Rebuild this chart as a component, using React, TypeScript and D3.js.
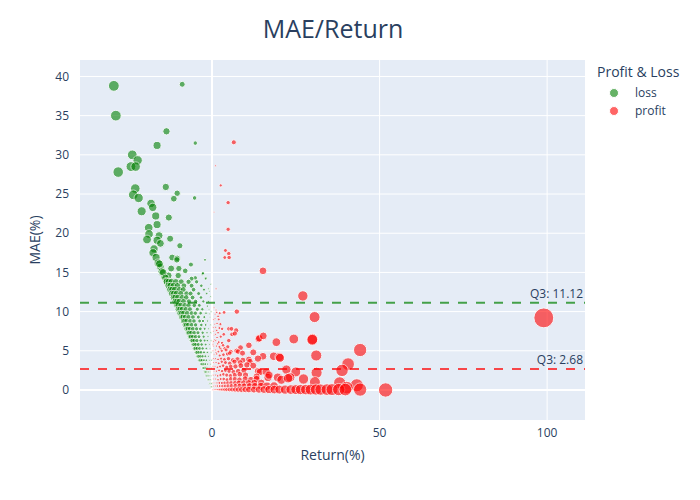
import React, { useEffect, useRef } from "react";
import * as d3 from "d3";

type Pt = [number, number]; // [return %, MAE %]

// loss trades (return, MAE)
const lossData: Pt[] = [
  [-29.3, 38.8], [-8.9, 39.0], [-28.7, 35.0], [-13.6, 33.0], [-5.0, 31.5], [-16.4, 31.2],
  [-23.8, 30.0], [-22.2, 29.3], [-24.2, 28.5], [-22.8, 28.5], [-28.0, 27.8], [-13.8, 25.9],
  [-22.9, 25.7], [-23.5, 24.9], [-10.4, 25.1], [-21.9, 24.5], [-11.4, 24.4], [-5.2, 24.5],
  [-18.2, 23.8], [-17.7, 23.3], [-21.0, 22.8], [-16.8, 22.2], [-12.9, 22.0], [-16.4, 21.1],
  [-18.9, 20.7], [-18.8, 19.9], [-15.8, 19.7], [-12.5, 19.3], [-19.4, 19.2], [-16.4, 19.1],
  [-15.4, 18.7], [-9.6, 18.4], [-17.3, 18.0], [-17.6, 17.5], [-16.7, 16.9], [-11.9, 16.9],
  [-10.4, 16.8], [-6.3, 16.0], [-2.1, 16.6], [-16.1, 16.2], [-15.4, 15.7], [-12.2, 15.5],
  [-9.9, 15.5], [-8.0, 15.2], [-15.0, 15.1], [-14.2, 14.4], [-13.0, 14.6], [-10.1, 14.6],
  [-5.0, 14.3], [-2.8, 14.8], [-1.8, 14.3], [-2.7, 14.9], [-1.9, 14.2], [-0.8, 12.6],
  [-14.6, 15.0], [-15.7, 16.1], [-13.9, 14.3], [-13.6, 13.9], [-10.5, 16.6], [-6.1, 14.2],
  [-0.4, 13.5], [-1.0, 12.9], [-0.5, 11.9], [-1.4, 10.7], [-0.3, 10.0], [-0.7, 9.7],
  [-13.5, 13.8], [-12.9, 13.8], [-12.1, 13.8], [-10.8, 13.8], [-9.2, 13.8], [-7.0, 13.8], [-4.6, 13.8],
  [-13.0, 13.3], [-12.4, 13.3], [-11.5, 13.3], [-10.3, 13.3], [-8.4, 13.3], [-6.1, 13.3], [-3.2, 13.3],
  [-12.5, 12.8], [-11.9, 12.8], [-11.1, 12.8], [-9.7, 12.8], [-8.6, 12.8], [-5.5, 12.8], [-2.4, 12.8],
  [-12.0, 12.3], [-11.4, 12.3], [-10.6, 12.3], [-9.3, 12.3], [-7.6, 12.3], [-6.4, 12.3], [-4.0, 12.3], [-1.6, 12.3],
  [-11.5, 11.8], [-11.0, 11.8], [-10.2, 11.8], [-8.9, 11.8], [-7.7, 11.8], [-5.8, 11.8], [-3.3, 11.8],
  [-11.0, 11.3], [-10.5, 11.3], [-9.8, 11.3], [-8.5, 11.3], [-6.9, 11.3], [-4.9, 11.3], [-2.6, 11.3], [-1.1, 11.3],
  [-10.5, 10.8], [-10.1, 10.8], [-9.3, 10.8], [-8.1, 10.8], [-7.0, 10.8], [-5.3, 10.8], [-3.8, 10.8],
  [-10.1, 10.3], [-9.6, 10.3], [-8.9, 10.3], [-7.8, 10.3], [-6.6, 10.3], [-4.4, 10.3], [-2.9, 10.3], [-0.9, 10.3],
  [-9.6, 9.8], [-9.1, 9.8], [-8.5, 9.8], [-7.4, 9.8], [-6.1, 9.8], [-5.0, 9.8], [-3.4, 9.8], [-1.8, 9.8],
  [-9.1, 9.3], [-8.7, 9.3], [-8.0, 9.3], [-7.0, 9.3], [-5.7, 9.3], [-4.1, 9.3], [-2.3, 9.3], [-0.6, 9.3],
  [-8.6, 8.8], [-8.2, 8.8], [-7.6, 8.8], [-6.5, 8.8], [-5.4, 8.8], [-3.7, 8.8], [-2.7, 8.8], [-1.3, 8.8],
  [-8.1, 8.3], [-7.7, 8.3], [-7.1, 8.3], [-6.1, 8.3], [-4.9, 8.3], [-3.2, 8.3], [-1.9, 8.3], [-0.5, 8.3],
  [-7.6, 7.8], [-7.2, 7.8], [-6.6, 7.8], [-5.7, 7.8], [-4.6, 7.8], [-3.5, 7.8], [-2.2, 7.8], [-1.0, 7.8],
  [-7.1, 7.3], [-6.8, 7.3], [-6.2, 7.3], [-5.3, 7.3], [-4.2, 7.3], [-2.8, 7.3], [-1.5, 7.3], [-0.4, 7.3],
  [-6.6, 6.8], [-6.3, 6.8], [-5.7, 6.8], [-4.9, 6.8], [-3.9, 6.8], [-2.5, 6.8], [-1.2, 6.8],
  [-6.1, 6.3], [-5.8, 6.3], [-5.3, 6.3], [-4.5, 6.3], [-3.4, 6.3], [-2.2, 6.3], [-1.4, 6.3], [-0.3, 6.3],
  [-5.6, 5.8], [-5.3, 5.8], [-4.8, 5.8], [-4.1, 5.8], [-3.1, 5.8], [-1.9, 5.8], [-0.8, 5.8],
  [-5.2, 5.3], [-4.9, 5.3], [-4.4, 5.3], [-3.7, 5.3], [-2.8, 5.3], [-1.7, 5.3], [-0.6, 5.3],
  [-4.7, 4.8], [-4.4, 4.8], [-3.9, 4.8], [-3.3, 4.8], [-2.4, 4.8], [-1.4, 4.8], [-0.3, 4.8],
  [-4.2, 4.3], [-3.9, 4.3], [-3.4, 4.3], [-2.8, 4.3], [-2.0, 4.3], [-1.1, 4.3],
  [-3.7, 3.8], [-3.4, 3.8], [-3.0, 3.8], [-2.4, 3.8], [-1.7, 3.8], [-0.8, 3.8], [-0.2, 3.8],
  [-3.2, 3.3], [-2.9, 3.3], [-2.5, 3.3], [-2.0, 3.3], [-1.3, 3.3], [-0.5, 3.3],
  [-2.7, 2.8], [-2.4, 2.8], [-2.0, 2.8], [-1.5, 2.8], [-0.9, 2.8], [-0.2, 2.8],
  [-2.2, 2.3], [-1.9, 2.3], [-1.5, 2.3], [-1.1, 2.3], [-0.6, 2.3],
  [-1.7, 1.8], [-1.4, 1.8], [-1.1, 1.8], [-0.7, 1.8], [-0.3, 1.8],
  [-1.2, 1.3], [-1.0, 1.3], [-0.7, 1.3], [-0.4, 1.3],
  [-0.8, 0.8], [-0.6, 0.8], [-0.3, 0.8], [-0.1, 0.8],
  [-0.4, 0.4], [-0.2, 0.4], [-0.1, 0.4],
];

// profit trades (return, MAE)
const profitData: Pt[] = [
  [6.5, 31.6], [1.0, 28.6], [2.6, 26.1], [4.8, 23.9], [0.6, 22.7], [4.8, 20.5], [4.0, 17.8],
  [5.0, 17.4], [3.8, 16.9], [5.1, 16.9], [15.2, 15.2], [1.2, 12.9], [27.1, 12.0], [99.0, 9.2],
  [0.6, 10.5], [1.2, 10.2], [0.9, 9.6], [1.8, 9.4], [0.4, 8.0], [1.1, 8.0], [2.2, 7.9], [0.5, 7.5],
  [2.6, 6.8], [1.5, 6.7], [0.3, 5.8], [1.7, 5.9], [2.5, 5.3], [3.8, 5.3], [1.2, 4.8],
  [1.4, 9.9], [2.3, 9.8], [3.6, 9.9], [7.4, 10.0], [30.6, 9.3], [0.5, 9.0], [0.9, 9.1], [2.0, 9.0],
  [0.8, 8.4], [1.5, 8.5], [2.5, 8.4], [1.4, 7.6], [3.0, 7.8], [5.0, 7.8], [5.8, 7.8], [7.2, 7.6],
  [0.6, 7.0], [1.0, 7.1], [1.8, 7.3], [3.5, 7.1], [6.0, 7.1], [6.8, 7.2],
  [13.9, 6.5], [14.1, 6.6], [15.3, 6.9], [19.2, 6.1], [24.4, 6.5], [30.0, 6.5], [29.9, 6.4],
  [0.4, 6.2], [1.1, 6.3], [2.0, 6.1], [3.0, 6.0], [5.0, 6.3], [0.7, 6.4],
  [0.5, 5.6], [1.3, 5.6], [2.2, 5.5], [3.3, 5.7], [4.7, 5.5], [8.5, 5.4], [11.0, 5.7],
  [0.3, 5.0], [1.0, 5.1], [1.9, 4.9], [2.9, 5.0], [4.2, 5.1], [5.6, 4.9], [7.3, 5.0], [12.3, 4.8], [44.2, 5.1],
  [0.6, 4.5], [1.4, 4.6], [2.3, 4.4], [3.4, 4.5], [4.6, 4.6], [5.3, 4.7], [7.8, 4.9], [9.1, 4.7],
  [15.2, 4.3], [18.4, 4.3], [20.1, 4.2], [31.1, 4.4],
  [0.4, 4.0], [1.0, 4.0], [1.8, 3.9], [2.7, 4.0], [3.7, 3.9], [4.9, 4.0], [6.2, 3.8], [7.6, 3.9],
  [9.2, 3.8], [11.0, 3.9], [13.7, 4.0], [20.3, 4.1],
  [0.5, 3.5], [1.2, 3.5], [2.0, 3.4], [2.9, 3.6], [4.0, 3.5], [5.3, 3.4], [6.7, 3.6], [8.4, 3.5],
  [11.3, 3.6], [40.6, 3.3],
  [0.3, 3.0], [0.9, 3.0], [1.6, 2.9], [2.4, 3.0], [3.3, 3.1], [4.4, 2.9], [5.6, 3.0], [7.0, 3.0],
  [8.6, 3.1], [10.4, 3.2], [12.3, 3.1],
  [0.6, 2.4], [1.3, 2.4], [2.1, 2.5], [3.0, 2.4], [4.0, 2.5], [5.1, 2.4], [6.4, 2.3], [7.8, 2.4],
  [9.5, 2.5], [13.7, 2.4], [14.3, 2.3], [16.2, 2.3], [22.2, 2.6], [25.0, 2.3], [31.2, 2.2], [38.8, 2.5],
  [0.4, 1.9], [1.0, 1.9], [1.7, 1.8], [2.5, 1.9], [3.4, 2.0], [4.4, 1.9], [5.5, 1.8], [6.8, 1.9],
  [8.3, 2.0], [10.0, 1.9], [13.3, 1.7], [16.7, 1.6], [17.0, 1.9], [19.6, 1.6], [23.3, 1.6],
  [0.5, 1.4], [1.1, 1.4], [1.8, 1.3], [2.6, 1.4], [3.5, 1.4], [4.5, 1.3], [5.6, 1.4], [6.8, 1.4],
  [8.2, 1.3], [9.9, 1.4], [11.6, 1.3], [13.3, 1.4], [20.7, 1.3], [22.7, 1.5], [27.3, 1.4],
  [0.3, 0.9], [0.9, 0.9], [1.5, 0.9], [2.2, 0.9], [3.0, 0.9], [3.8, 0.9], [4.7, 0.9], [5.7, 0.9],
  [6.9, 0.9], [8.0, 0.9], [9.4, 0.9], [10.9, 0.9], [12.6, 0.9], [14.7, 0.9], [30.7, 1.0], [38.1, 0.9],
  [0.4, 0.5], [1.0, 0.5], [1.6, 0.5], [2.3, 0.5], [3.1, 0.5], [3.9, 0.5], [4.8, 0.5], [5.8, 0.5],
  [7.0, 0.5], [8.3, 0.5], [9.6, 0.5], [11.2, 0.5], [12.8, 0.5], [14.6, 0.5], [16.4, 0.5], [18.5, 0.5],
  [43.2, 0.6], [40.2, 0.3],
  [0.3, 0.05], [0.7, 0.05], [1.2, 0.05], [1.8, 0.05], [2.4, 0.05], [3.0, 0.05], [3.7, 0.05],
  [4.4, 0.05], [5.2, 0.05], [6.0, 0.05], [6.9, 0.05], [7.8, 0.05], [8.8, 0.05], [9.9, 0.05],
  [11.0, 0.05], [12.5, 0.05], [14.0, 0.05], [15.5, 0.05], [17.0, 0.05], [18.6, 0.05], [20.1, 0.05],
  [21.8, 0.05], [23.5, 0.05], [25.0, 0.05], [26.4, 0.05], [28.0, 0.05], [29.4, 0.05], [31.0, 0.05],
  [32.4, 0.05], [34.3, 0.05], [35.8, 0.05], [37.8, 0.05], [39.8, 0.05], [44.2, 0.05], [51.8, 0.0],
];

const q3Loss = 11.12;
const q3Profit = 2.68;
const xTicks = [0, 50, 100];
const yTicks = [0, 5, 10, 15, 20, 25, 30, 35, 40];

const WIDTH = 700;
const HEIGHT = 500;
const LEFT = 80;
const RIGHT = 585;
const TOP = 60;
const BOTTOM = 420;
const FONT = '"Open Sans", verdana, arial, sans-serif';
const TEXT = "#2a3f5f";

const App: React.FC = () => {
  const svgRef = useRef<SVGSVGElement | null>(null);

  useEffect(() => {
    if (!svgRef.current) return;
    const svg = d3.select(svgRef.current);
    svg.selectAll("*").remove();

    const x = d3.scaleLinear().domain([-39.4, 111.3]).range([LEFT, RIGHT]);
    const y = d3.scaleLinear().domain([-3.83, 42.1]).range([BOTTOM, TOP]);
    const r = d3.scaleSqrt().domain([0, 100]).range([0, 10]);
    const rad = (v: number) => Math.max(0.9, r(Math.abs(v)));

    // background
    svg.append("rect")
      .attr("x", LEFT).attr("y", TOP)
      .attr("width", RIGHT - LEFT).attr("height", BOTTOM - TOP)
      .attr("fill", "#E5ECF6");

    // grid
    svg.append("g").selectAll("line")
      .data(yTicks)
      .join("line")
      .attr("x1", LEFT).attr("x2", RIGHT)
      .attr("y1", (d) => y(d)).attr("y2", (d) => y(d))
      .attr("stroke", "white")
      .attr("stroke-width", (d) => (d === 0 ? 2 : 1));
    svg.append("g").selectAll("line")
      .data(xTicks)
      .join("line")
      .attr("x1", (d) => x(d)).attr("x2", (d) => x(d))
      .attr("y1", TOP).attr("y2", BOTTOM)
      .attr("stroke", "white")
      .attr("stroke-width", (d) => (d === 0 ? 2 : 1));

    // tick labels
    svg.append("g").selectAll("text")
      .data(yTicks)
      .join("text")
      .attr("x", 69).attr("y", (d) => y(d) + 4.2)
      .attr("text-anchor", "end")
      .attr("font-size", 12)
      .attr("fill", TEXT)
      .text((d) => d);
    svg.append("g").selectAll("text")
      .data(xTicks)
      .join("text")
      .attr("x", (d) => x(d)).attr("y", 437)
      .attr("text-anchor", "middle")
      .attr("font-size", 12)
      .attr("fill", TEXT)
      .text((d) => d);

    // points
    const plot = svg.append("g");
    const addSeries = (data: Pt[], color: string) => {
      plot.append("g").selectAll("circle")
        .data(data)
        .join("circle")
        .attr("cx", (d) => x(d[0]))
        .attr("cy", (d) => y(d[1]))
        .attr("r", (d) => rad(d[0]))
        .attr("fill", color)
        .attr("stroke", "white")
        .attr("stroke-width", 1)
        .attr("opacity", 0.6);
    };
    addSeries(lossData, "green");
    addSeries(profitData, "red");

    // Q3 lines
    const q3 = [
      { v: q3Loss, color: "green" },
      { v: q3Profit, color: "red" },
    ];
    svg.append("g").selectAll("line")
      .data(q3)
      .join("line")
      .attr("x1", LEFT).attr("x2", RIGHT)
      .attr("y1", (d) => y(d.v)).attr("y2", (d) => y(d.v))
      .attr("stroke", (d) => d.color)
      .attr("stroke-width", 2)
      .attr("stroke-dasharray", "9,9")
      .attr("opacity", 0.7);
    svg.append("g").selectAll("text")
      .data(q3)
      .join("text")
      .attr("x", RIGHT - 2).attr("y", (d) => y(d.v) - 5)
      .attr("text-anchor", "end")
      .attr("font-size", 12)
      .attr("fill", TEXT)
      .text((d) => `Q3: ${d.v.toFixed(2)}`);

    // titles
    svg.append("text")
      .attr("x", 333).attr("y", 38)
      .attr("text-anchor", "middle")
      .attr("font-size", 25)
      .attr("fill", TEXT)
      .text("MAE/Return");
    svg.append("text")
      .attr("x", (LEFT + RIGHT) / 2).attr("y", 460)
      .attr("text-anchor", "middle")
      .attr("font-size", 14)
      .attr("fill", TEXT)
      .text("Return(%)");
    svg.append("text")
      .attr("transform", `translate(40,${(TOP + BOTTOM) / 2}) rotate(-90)`)
      .attr("text-anchor", "middle")
      .attr("font-size", 14)
      .attr("fill", TEXT)
      .text("MAE(%)");

    // legend
    const legend = svg.append("g");
    legend.append("text")
      .attr("x", 597).attr("y", 77)
      .attr("font-size", 14)
      .attr("fill", TEXT)
      .text("Profit & Loss");
    const items = [
      { name: "loss", color: "green" },
      { name: "profit", color: "red" },
    ];
    const li = legend.selectAll("g.item")
      .data(items)
      .join("g")
      .attr("transform", (_d, i) => `translate(0,${93 + i * 18})`);
    li.append("circle")
      .attr("cx", 614).attr("cy", 0).attr("r", 4.5)
      .attr("fill", (d) => d.color)
      .attr("stroke", "white").attr("stroke-width", 1)
      .attr("opacity", 0.6);
    li.append("text")
      .attr("x", 635).attr("y", 4.2)
      .attr("font-size", 12)
      .attr("fill", TEXT)
      .text((d) => d.name);
  }, []);

  return (
    <div style={{ position: "absolute", left: 0, top: 0 }}>
      <svg ref={svgRef} width={WIDTH} height={HEIGHT} style={{ fontFamily: FONT, display: "block", background: "white" }} />
    </div>
  );
};

export default App;
